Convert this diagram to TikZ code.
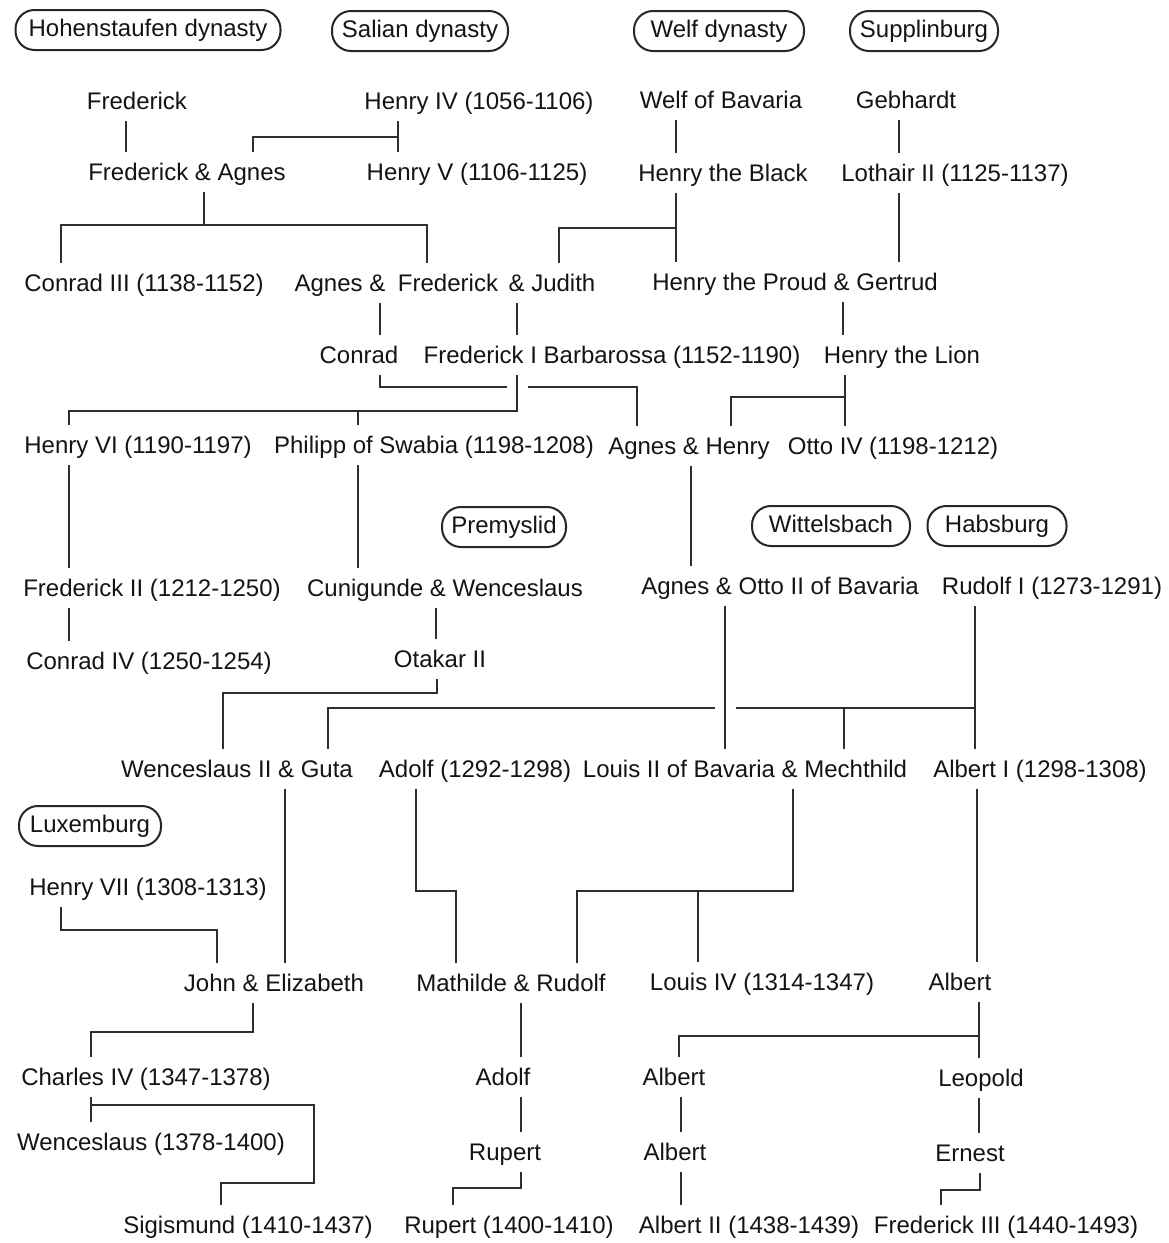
\documentclass[tikz,border=0pt]{standalone}
\usepackage{fontspec}
\setmainfont{Liberation Sans}
\begin{document}
\begin{tikzpicture}[x=1pt,y=-1pt,
  person/.style={inner sep=0pt, text height=28pt, text depth=12pt, font=\fontsize{24}{28}\selectfont, text=black!92},
  house/.style={draw=black!85, line width=2pt, rounded corners=19pt, minimum height=40pt, inner sep=0pt, text height=17pt, text depth=5pt, font=\fontsize{24}{28}\selectfont, text=black!92},
  link/.style={line width=1.8pt, draw=black!82}]
\fill[white] (0,0) rectangle (1169,1243);
\useasboundingbox (0,0) rectangle (1169,1243);
% dynasty labels
\node[house, minimum width=265pt] (ohs) at (148,30) {Hohenstaufen dynasty};
\node[house, minimum width=176pt] (osal) at (420,31) {Salian dynasty};
\node[house, minimum width=170pt] (owelf) at (719,31) {Welf dynasty};
\node[house, minimum width=148pt] (osup) at (924,31) {Supplinburg};
\node[house, minimum width=124pt] (oprem) at (504,527) {Premyslid};
\node[house, minimum width=158pt] (owit) at (831,526) {Wittelsbach};
\node[house, minimum width=139pt] (ohab) at (997,526) {Habsburg};
\node[house, minimum width=142pt] (olux) at (90,826) {Luxemburg};
% persons
\node[person] (n1) at (137,101) {Frederick};
\node[person] (n2) at (479,101) {Henry IV (1056-1106)};
\node[person] (n3) at (721,100) {Welf of Bavaria};
\node[person] (n4) at (906,100) {Gebhardt};
\node[person] (n5) at (187,172) {Frederick \& Agnes};
\node[person] (n6) at (477,172) {Henry V (1106-1125)};
\node[person] (n7) at (723,173) {Henry the Black};
\node[person] (n8) at (955,173) {Lothair II (1125-1137)};
\node[person] (n9) at (144,283) {Conrad III (1138-1152)};
\node[person] (n10a) at (340,283) {Agnes \&};
\node[person] (n10b) at (448,283) {Frederick};
\node[person] (n10c) at (552,283) {\& Judith};
\node[person] (n11) at (795,282) {Henry the Proud \& Gertrud};
\node[person] (n12) at (359,355) {Conrad};
\node[person] (n13) at (612,355) {Frederick I Barbarossa (1152-1190)};
\node[person] (n14) at (902,355) {Henry the Lion};
\node[person] (n15) at (138,445) {Henry VI (1190-1197)};
\node[person] (n16) at (434,445) {Philipp of Swabia (1198-1208)};
\node[person] (n17) at (689,446) {Agnes \& Henry};
\node[person] (n18) at (893,446) {Otto IV (1198-1212)};
\node[person] (n19) at (152,588) {Frederick II (1212-1250)};
\node[person] (n20) at (445,588) {Cunigunde \& Wenceslaus};
\node[person] (n21) at (780,586) {Agnes \& Otto II of Bavaria};
\node[person] (n22) at (1052,586) {Rudolf I (1273-1291)};
\node[person] (n23) at (149,661) {Conrad IV (1250-1254)};
\node[person] (n24) at (440,659) {Otakar II};
\node[person] (n25) at (237,769) {Wenceslaus II \& Guta};
\node[person] (n26) at (475,769) {Adolf (1292-1298)};
\node[person] (n27) at (745,769) {Louis II of Bavaria \& Mechthild};
\node[person] (n28) at (1040,769) {Albert I (1298-1308)};
\node[person] (n29) at (148,887) {Henry VII (1308-1313)};
\node[person] (n30) at (274,983) {John \& Elizabeth};
\node[person] (n31) at (511,983) {Mathilde \& Rudolf};
\node[person] (n32) at (762,982) {Louis IV (1314-1347)};
\node[person] (n33) at (960,982) {Albert};
\node[person] (n34) at (146,1077) {Charles IV (1347-1378)};
\node[person] (n35) at (503,1077) {Adolf};
\node[person] (n36) at (674,1077) {Albert};
\node[person] (n37) at (981,1078) {Leopold};
\node[person] (n38) at (151,1142) {Wenceslaus (1378-1400)};
\node[person] (n39) at (505,1152) {Rupert};
\node[person] (n40) at (675,1152) {Albert};
\node[person] (n41) at (970,1153) {Ernest};
\node[person] (n42) at (248,1225) {Sigismund (1410-1437)};
\node[person] (n43) at (509,1225) {Rupert (1400-1410)};
\node[person] (n44) at (749,1225) {Albert II (1438-1439)};
\node[person] (n45) at (1006,1225) {Frederick III (1440-1493)};
% connectors
\begin{scope}[link]
\draw (n1.south -| 126,0) -- (n5.north -| 126,0);
\draw (n2.south -| 398,0) -- (n6.north -| 398,0);
\draw (398,137) -- (253,137) -- (n5.north -| 253,0);
\draw (n3.south -| 676,0) -- (n7.north -| 676,0);
\draw (n4.south -| 899,0) -- (n8.north -| 899,0);
\draw (n5.south -| 204,0) -- (204,225);
\draw (n9.north -| 61,0) -- (61,225) -- (427,225) -- (n10b.north -| 427,0);
\draw (n7.south -| 676,0) -- (n11.north -| 676,0);
\draw (676,228) -- (559,228) -- (n10c.north -| 559,0);
\draw (n8.south -| 899,0) -- (n11.north -| 899,0);
\draw (n10a.south -| 380,0) -- (n12.north -| 380,0);
\draw (n10c.south -| 517,0) -- (n13.north -| 517,0);
\draw (n11.south -| 843,0) -- (n14.north -| 843,0);
\draw (n12.south -| 380,0) -- (380,387) -- (507,387);
\draw (528,387) -- (637,387) -- (n17.north -| 637,0);
\draw (n13.south -| 517,0) -- (517,411) -- (69,411) -- (n15.north -| 69,0);
\draw (358,411) -- (n16.north -| 358,0);
\draw (n14.south -| 845,0) -- (n18.north -| 845,0);
\draw (845,397) -- (731,397) -- (n17.north -| 731,0);
\draw (n15.south -| 69,0) -- (n19.north -| 69,0);
\draw (n16.south -| 358,0) -- (n20.north -| 358,0);
\draw (n17.south -| 691,0) -- (n21.north -| 691,0);
\draw (n19.south -| 69,0) -- (n23.north -| 69,0);
\draw (n20.south -| 436,0) -- (n24.north -| 436,0);
\draw (n24.south -| 437,0) -- (437,693) -- (223,693) -- (n25.north -| 223,0);
\draw (n21.south -| 725,0) -- (n27.north -| 725,0);
\draw (n22.south -| 975,0) -- (n28.north -| 975,0);
\draw (975,708) -- (736,708);
\draw (715,708) -- (328,708) -- (n25.north -| 328,0);
\draw (844,708) -- (n27.north -| 844,0);
\draw (n29.south -| 61,0) -- (61,930) -- (217,930) -- (n30.north -| 217,0);
\draw (n25.south -| 285,0) -- (n30.north -| 285,0);
\draw (n26.south -| 416,0) -- (416,891) -- (456,891) -- (n31.north -| 456,0);
\draw (n27.south -| 793,0) -- (793,891) -- (577,891) -- (n31.north -| 577,0);
\draw (698,891) -- (n32.north -| 698,0);
\draw (n28.south -| 977,0) -- (n33.north -| 977,0);
\draw (n30.south -| 253,0) -- (253,1032) -- (91,1032) -- (n34.north -| 91,0);
\draw (n31.south -| 521,0) -- (n35.north -| 521,0);
\draw (n33.south -| 979,0) -- (n37.north -| 979,0);
\draw (979,1036) -- (679,1036) -- (n36.north -| 679,0);
\draw (n34.south -| 91,0) -- (n38.north -| 91,0);
\draw (91,1105) -- (314,1105) -- (314,1183) -- (221,1183) -- (n42.north -| 221,0);
\draw (n35.south -| 521,0) -- (n39.north -| 521,0);
\draw (n36.south -| 681,0) -- (n40.north -| 681,0);
\draw (n37.south -| 979,0) -- (n41.north -| 979,0);
\draw (n39.south -| 521,0) -- (521,1188) -- (453,1188) -- (n43.north -| 453,0);
\draw (n40.south -| 681,0) -- (n44.north -| 681,0);
\draw (n41.south -| 980,0) -- (980,1190) -- (941,1190) -- (n45.north -| 941,0);
\end{scope}
\end{tikzpicture}
\end{document}
